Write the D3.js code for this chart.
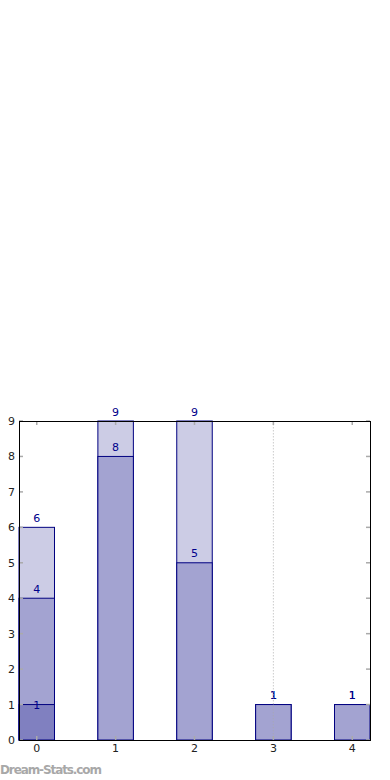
<!DOCTYPE html>
<html lang="en">
<head>
<meta charset="UTF-8">
<title>Bars</title>
<script src="https://d3js.org/d3.v7.min.js"></script>
<style>
  body { margin: 0; background: #fff; font-family: 'DejaVu Sans', sans-serif; }
  .tick-label { font-size: 11px; fill: #222; }
  .val-label { font-size: 11px; fill: #00008b; }
</style>
</head>
<body>
<div id="chart"></div>
<script>
// categories and the three overlapping series (drawn back to front)
const categories = [0, 1, 2, 3, 4];
const outerValues = [6, 9, 9, 1, 1];
const middleValues = [4, 8, 5, 1, 1];
const innerValues = [1, 0, 0, 0, 0];
const yTicks = [0, 1, 2, 3, 4, 5, 6, 7, 8, 9];

const width = 390, height = 780;
const margin = { left: 19, right: 20, top: 421, bottom: 40 };
const barWidth = 0.45;

const svg = d3.select("#chart").append("svg")
  .attr("width", width).attr("height", height);

const x = d3.scaleLinear()
  .domain([-barWidth / 2, 4 + barWidth / 2])
  .range([margin.left, width - margin.right]);
const y = d3.scaleLinear()
  .domain([0, 9])
  .range([height - margin.bottom, margin.top]);

const series = [
  { values: outerValues, fill: "#ccccE5" },
  { values: middleValues, fill: "#a3a3d1" },
  { values: innerValues, fill: "#8080c0" }
];

series.forEach((s, si) => {
  const data = categories.map((c, i) => ({ c, v: s.values[i] })).filter(d => d.v > 0);
  svg.append("g").selectAll("rect")
    .data(data).enter().append("rect")
    .attr("x", d => x(d.c - barWidth / 2))
    .attr("y", d => y(d.v))
    .attr("width", d => x(d.c + barWidth / 2) - x(d.c - barWidth / 2))
    .attr("height", d => y(0) - y(d.v))
    .attr("fill", s.fill)
    .attr("stroke", "#000080")
    .attr("stroke-width", 1);
  svg.append("g").selectAll("text")
    .data(data).enter().append("text")
    .attr("class", "val-label")
    .attr("x", d => x(d.c))
    .attr("y", d => y(d.v) - (si === 2 ? -4 : 5.5))
    .attr("text-anchor", "middle")
    .text(d => d.v);
});

// dotted guide at x = 3
svg.append("line")
  .attr("x1", x(3)).attr("x2", x(3))
  .attr("y1", y(9)).attr("y2", y(0))
  .attr("stroke", "#aaa").attr("stroke-opacity", 0.6)
  .attr("stroke-dasharray", "1.5,1.5");

// inward ticks on all sides
const tk = svg.append("g").attr("stroke", "#aaa").attr("stroke-width", 1.5);
categories.forEach(c => {
  tk.append("line").attr("x1", x(c)).attr("x2", x(c)).attr("y1", y(0)).attr("y2", y(0) - 4);
  tk.append("line").attr("x1", x(c)).attr("x2", x(c)).attr("y1", y(9)).attr("y2", y(9) + 4);
});
yTicks.forEach(t => {
  tk.append("line").attr("x1", x.range()[0]).attr("x2", x.range()[0] + 4).attr("y1", y(t)).attr("y2", y(t));
  tk.append("line").attr("x1", x.range()[1]).attr("x2", x.range()[1] - 4).attr("y1", y(t)).attr("y2", y(t));
});

// frame
svg.append("rect")
  .attr("x", x.range()[0] + 0.5).attr("y", y(9) + 0.5)
  .attr("width", x.range()[1] - x.range()[0]).attr("height", y(0) - y(9))
  .attr("fill", "none").attr("stroke", "#000").attr("stroke-width", 1);

// tick labels
svg.append("g").selectAll("text")
  .data(yTicks).enter().append("text")
  .attr("class", "tick-label")
  .attr("x", x.range()[0] - 4)
  .attr("y", d => y(d) + 4)
  .attr("text-anchor", "end")
  .text(d => d);
svg.append("g").selectAll("text")
  .data(categories).enter().append("text")
  .attr("class", "tick-label")
  .attr("x", d => x(d))
  .attr("y", y(0) + 12)
  .attr("text-anchor", "middle")
  .text(d => d);

// watermark
svg.append("text")
  .attr("x", 0).attr("y", 774)
  .attr("font-size", 12).attr("font-weight", 600)
  .attr("fill", "#a8a8a8")
  .attr("textLength", 102)
  .text("Dream-Stats.com");
</script>
</body>
</html>
